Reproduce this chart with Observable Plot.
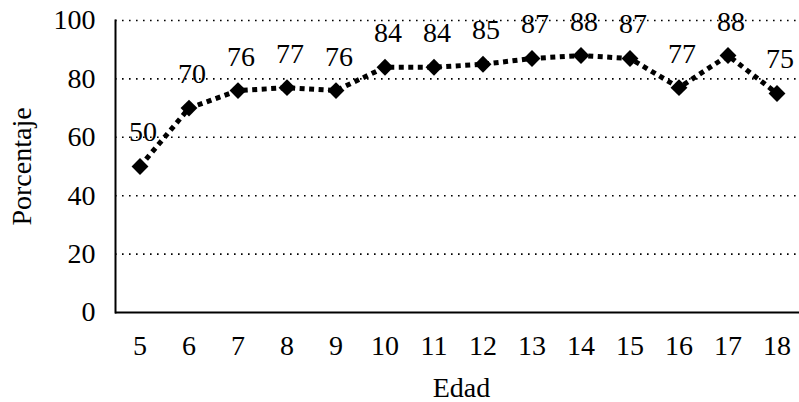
<!DOCTYPE html>
<html>
<head>
<meta charset="utf-8">
<script src="https://cdn.jsdelivr.net/npm/d3@7"></script>
<script src="https://cdn.jsdelivr.net/npm/@observablehq/plot@0.6"></script>
<style>
  html, body { margin: 0; padding: 0; background: #fff; }
  svg { display: block; }
  svg, svg text, svg g { font-family: "Liberation Serif", "DejaVu Serif", serif !important; }
</style>
</head>
<body>
<div id="chart"></div>
<script>
const edades = [5, 6, 7, 8, 9, 10, 11, 12, 13, 14, 15, 16, 17, 18];
const porcentajes = [50, 70, 76, 77, 76, 84, 84, 85, 87, 88, 87, 77, 88, 75];
const yTicks = [0, 20, 40, 60, 80, 100];
const xTitle = "Edad";
const yTitle = "Porcentaje";

const data = edades.map((e, i) => ({edad: e, pct: porcentajes[i]}));
const font = "Liberation Serif";
const fs = 28;

const chart = Plot.plot({
  width: 799,
  height: 402,
  marginLeft: 115,
  marginRight: 0,
  marginTop: 20,
  marginBottom: 90,
  style: {fontFamily: font, fontSize: fs + "px", color: "#000", background: "#fff"},
  x: {type: "band", domain: edades, range: [115, 801], padding: 0},
  y: {domain: [0, 100], range: [312, 20]},
  marks: [
    Plot.ruleY(yTicks.filter(d => d > 0), {stroke: "#000", strokeWidth: 1.6, strokeDasharray: "1.6 5.4"}),
    Plot.axisY({ticks: yTicks, tickSize: 0, tickPadding: 20, label: null, fontSize: fs, fontFamily: font}),
    Plot.axisX({tickSize: 0, tickPadding: 23, label: null, fontSize: fs, fontFamily: font}),
    Plot.frame({anchor: "left", stroke: "#000", strokeWidth: 2}),
    Plot.ruleY([0], {stroke: "#000", strokeWidth: 2}),
    Plot.line(data, {x: "edad", y: "pct", stroke: "#000", strokeWidth: 5, strokeDasharray: "5 4.5", strokeLinecap: "butt"}),
    Plot.dot(data, {x: "edad", y: "pct", symbol: "diamond2", r: 7.6, fill: "#000", stroke: "none"}),
    Plot.text(data, {x: "edad", y: "pct", text: d => String(d.pct), dy: -34, dx: 3, lineAnchor: "middle", fontSize: fs, fontFamily: font, fill: "#000"}),
    Plot.text([xTitle], {frameAnchor: "bottom", dy: 76, dx: 4, lineAnchor: "middle", fontSize: fs, fontFamily: font, fill: "#000"}),
    Plot.text([yTitle], {frameAnchor: "left", dx: -93, rotate: -90, lineAnchor: "middle", textAnchor: "middle", fontSize: fs, fontFamily: font, fill: "#000"})
  ]
});
document.getElementById("chart").appendChild(chart);
</script>
</body>
</html>
